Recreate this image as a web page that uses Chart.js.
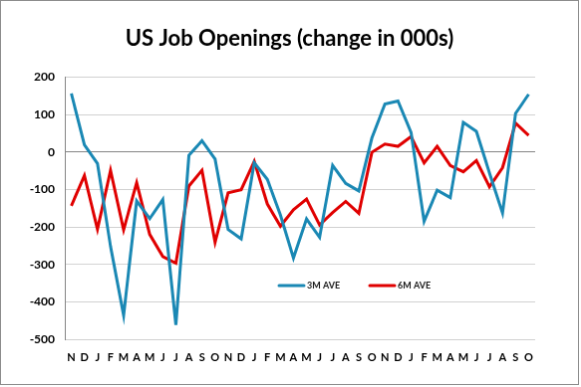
<!DOCTYPE html>
<html>
<head>
<meta charset="utf-8">
<script src="https://cdn.jsdelivr.net/npm/chart.js@4.4.1/dist/chart.umd.min.js"></script>
<style>
  html, body { margin: 0; padding: 0; background: #fff; }
  #chart { display: block; border: 1px solid #8c8c8c; }
</style>
</head>
<body>
<canvas id="chart" width="579" height="385"></canvas>
<script>
// month labels, Nov through Oct, three years
const months = ["N","D","J","F","M","A","M","J","J","A","S","O",
                "N","D","J","F","M","A","M","J","J","A","S","O",
                "N","D","J","F","M","A","M","J","J","A","S","O"];

// 3 month average
const ave3m = [156, 19, -31, -252, -436, -131, -178, -127, -462, -9, 30, -19,
               -207, -232, -29, -73, -168, -283, -179, -228, -36, -84, -104, 37,
               128, 136, 52, -185, -102, -122, 79, 55, -56, -163, 103, 154];

// 6 month average
const ave6m = [-144, -63, -206, -49, -208, -82, -220, -279, -297, -91, -49, -241,
               -109, -101, -25, -139, -198, -154, -126, -195, -162, -132, -164, -1,
               21, 15, 41, -29, 15, -36, -53, -23, -93, -42, 77, 44];

const yTicks = [200, 100, 0, -100, -200, -300, -400, -500];

const blue = "#1a88b4";
const red = "#e00000";
const font = "Lato, 'Open Sans', sans-serif";

// legend sits inside the plot, like the excel one
const insideLegend = {
    id: "insideLegend",
    afterDraw(chart) {
        const c = chart.ctx;
        const items = [
            {x: 279, label: "3M AVE", color: blue},
            {x: 370, label: "6M AVE", color: red}
        ];
        const y = 286;
        c.save();
        c.lineWidth = 3;
        c.lineCap = "round";
        c.font = "bold 9px " + font;
        c.textBaseline = "middle";
        c.fillStyle = "#1a1a1a";
        items.forEach(it => {
            c.strokeStyle = it.color;
            c.beginPath();
            c.moveTo(it.x, y);
            c.lineTo(it.x + 25, y);
            c.stroke();
            c.fillText(it.label, it.x + 28, y + 0.5);
        });
        c.restore();
    }
};

new Chart(document.getElementById("chart").getContext("2d"), {
    type: "line",
    data: {
        labels: months,
        datasets: [
            {label: "3M AVE", data: ave3m, borderColor: blue, borderWidth: 3,
             pointRadius: 0, tension: 0, fill: false},
            {label: "6M AVE", data: ave6m, borderColor: red, borderWidth: 3,
             pointRadius: 0, tension: 0, fill: false}
        ]
    },
    options: {
        responsive: false,
        animation: false,
        layout: {padding: 0},
        plugins: {
            legend: {display: false},
            tooltip: {enabled: false},
            title: {
                display: true,
                text: "US Job Openings (change in 000s)",
                color: "#000",
                font: {family: font, size: 22, weight: "bold"},
                padding: {top: 25, bottom: 25}
            }
        },
        scales: {
            x: {
                offset: true,
                grid: {display: false, drawTicks: false},
                border: {display: false},
                ticks: {
                    color: "#000",
                    font: {family: font, size: 11, weight: "bold"},
                    padding: 12,
                    maxRotation: 0,
                    autoSkip: false
                },
                afterFit(scale) { scale.height = 45; }
            },
            y: {
                min: -500,
                max: 200,
                afterBuildTicks(scale) {
                    scale.ticks = yTicks.map(v => ({value: v}));
                },
                grid: {
                    drawTicks: false,
                    color: ctx => ctx.tick && ctx.tick.value === 0 ? "#868686" : "#d0d0d0",
                    lineWidth: 1
                },
                border: {display: true, color: "#868686"},
                ticks: {
                    color: "#000",
                    font: {family: font, size: 12, weight: "bold"},
                    padding: 10
                },
                afterFit(scale) { scale.width = 64; }
            },
            // empty right axis, only keeps the right margin so the title stays centred
            yRight: {
                position: "right",
                min: -500,
                max: 200,
                grid: {display: false, drawTicks: false},
                border: {display: false},
                ticks: {display: false},
                afterFit(scale) { scale.width = 43; }
            }
        }
    },
    plugins: [insideLegend]
});
</script>
</body>
</html>
